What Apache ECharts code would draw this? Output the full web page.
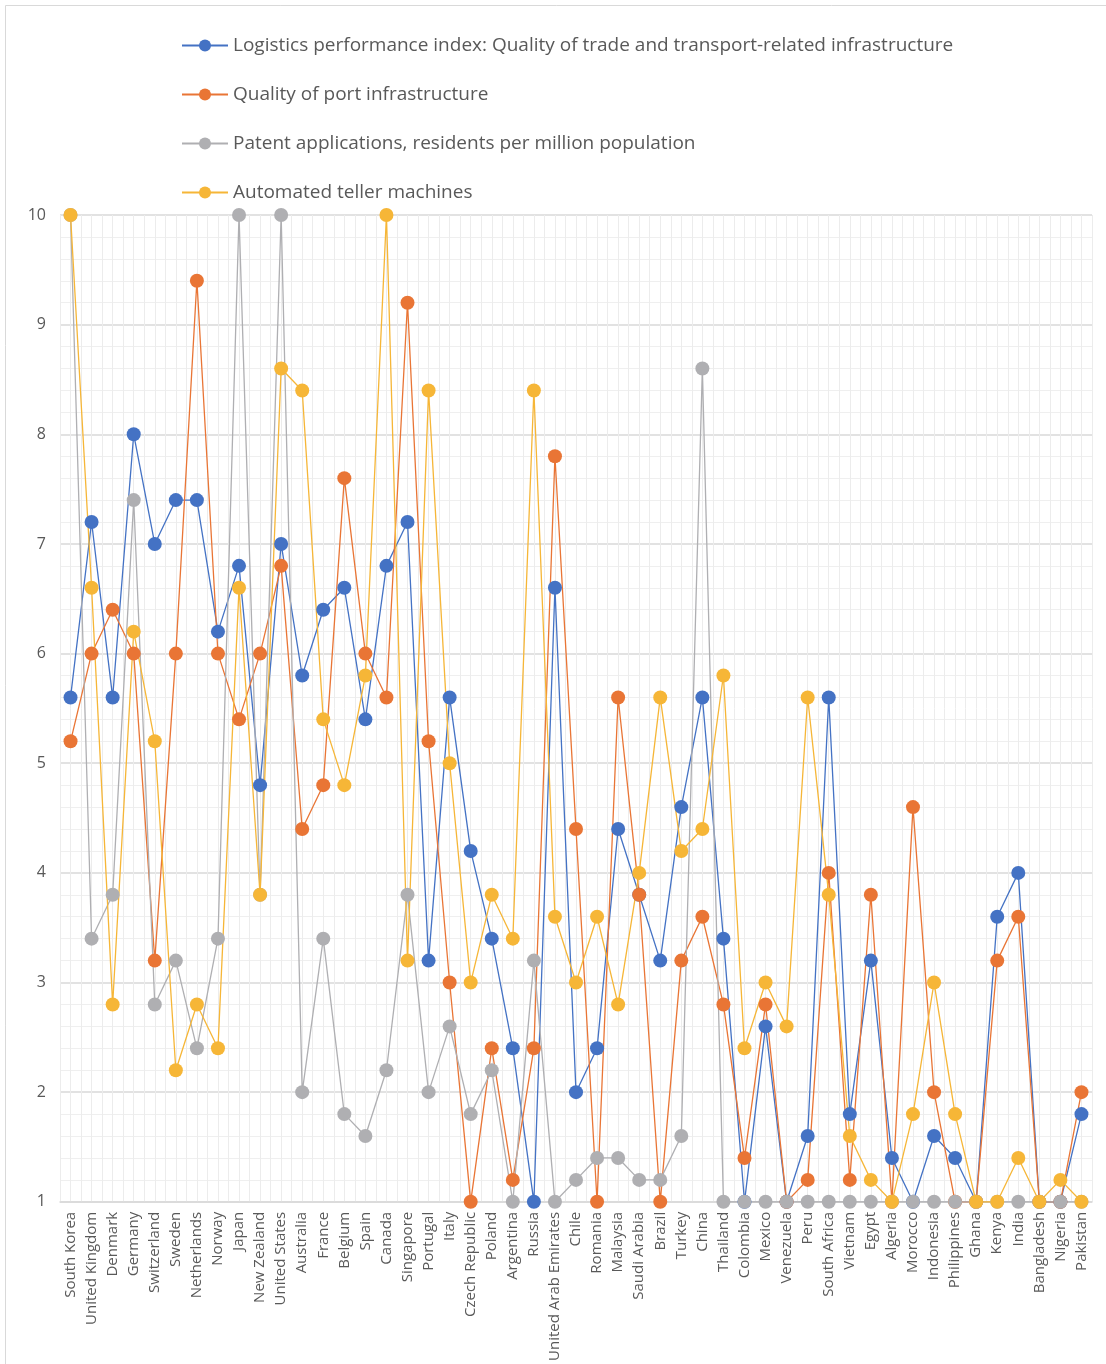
<!DOCTYPE html>
<html>
<head>
<meta charset="utf-8">
<title>Infrastructure indicators by country</title>
<script src="https://cdn.jsdelivr.net/npm/echarts@6/dist/echarts.min.js"></script>
<style>
  html, body { margin: 0; padding: 0; background: #fff; }
  #chart { width: 1106px; height: 1364px; }
</style>
</head>
<body>
<div id="chart"></div>
<script>
const countries = ['South Korea', 'United Kingdom', 'Denmark', 'Germany', 'Switzerland', 'Sweden',
  'Netherlands', 'Norway', 'Japan', 'New Zealand', 'United States', 'Australia', 'France',
  'Belgium', 'Spain', 'Canada', 'Singapore', 'Portugal', 'Italy', 'Czech Republic', 'Poland',
  'Argentina', 'Russia', 'United Arab Emirates', 'Chile', 'Romania', 'Malaysia', 'Saudi Arabia',
  'Brazil', 'Turkey', 'China', 'Thailand', 'Colombia', 'Mexico', 'Venezuela', 'Peru',
  'South Africa', 'Vietnam', 'Egypt', 'Algeria', 'Morocco', 'Indonesia', 'Philippines', 'Ghana',
  'Kenya', 'India', 'Bangladesh', 'Nigeria', 'Pakistan'];

const logistics = [5.6, 7.2, 5.6, 8.0, 7.0, 7.4, 7.4, 6.2, 6.8, 4.8, 7.0, 5.8, 6.4, 6.6, 5.4, 6.8,
  7.2, 3.2, 5.6, 4.2, 3.4, 2.4, 1.0, 6.6, 2.0, 2.4, 4.4, 3.8, 3.2, 4.6, 5.6, 3.4, 1.0, 2.6, 1.0,
  1.6, 5.6, 1.8, 3.2, 1.4, 1.0, 1.6, 1.4, 1.0, 3.6, 4.0, 1.0, 1.0, 1.8];

const portQuality = [5.2, 6.0, 6.4, 6.0, 3.2, 6.0, 9.4, 6.0, 5.4, 6.0, 6.8, 4.4, 4.8, 7.6, 6.0, 5.6,
  9.2, 5.2, 3.0, 1.0, 2.4, 1.2, 2.4, 7.8, 4.4, 1.0, 5.6, 3.8, 1.0, 3.2, 3.6, 2.8, 1.4, 2.8, 1.0,
  1.2, 4.0, 1.2, 3.8, 1.0, 4.6, 2.0, 1.0, 1.0, 3.2, 3.6, 1.0, 1.0, 2.0];

const patents = [10, 3.4, 3.8, 7.4, 2.8, 3.2, 2.4, 3.4, 10, 3.8, 10, 2.0, 3.4, 1.8, 1.6, 2.2,
  3.8, 2.0, 2.6, 1.8, 2.2, 1.0, 3.2, 1.0, 1.2, 1.4, 1.4, 1.2, 1.2, 1.6, 8.6, 1.0, 1.0, 1.0, 1.0,
  1.0, 1.0, 1.0, 1.0, 1.0, 1.0, 1.0, 1.0, 1.0, 1.0, 1.0, 1.0, 1.0, 1.0];

const atms = [10, 6.6, 2.8, 6.2, 5.2, 2.2, 2.8, 2.4, 6.6, 3.8, 8.6, 8.4, 5.4, 4.8, 5.8, 10,
  3.2, 8.4, 5.0, 3.0, 3.8, 3.4, 8.4, 3.6, 3.0, 3.6, 2.8, 4.0, 5.6, 4.2, 4.4, 5.8, 2.4, 3.0, 2.6,
  5.6, 3.8, 1.6, 1.2, 1.0, 1.8, 3.0, 1.8, 1.0, 1.0, 1.4, 1.0, 1.2, 1.0];

const seriesNames = [
  'Logistics performance index: Quality of trade and transport-related infrastructure',
  'Quality of port infrastructure',
  'Patent applications, residents per million population',
  'Automated teller machines'
];
const seriesColors = ['#4472C4', '#E97535', '#AFAFB2', '#F6B637'];
const seriesData = [logistics, portQuality, patents, atms];

const font = '"Open Sans", "DejaVu Sans", sans-serif';

const chart = echarts.init(document.getElementById('chart'));
chart.setOption({
  animation: false,
  backgroundColor: '#fff',
  textStyle: {fontFamily: font},
  graphic: [{
    type: 'rect',
    shape: {x: 5.5, y: 5.5, width: 1300, height: 1500},
    style: {fill: 'none', stroke: '#d9d9d9', lineWidth: 1},
    silent: true
  }],
  legend: {
    orient: 'vertical',
    left: 176,
    top: 31,
    itemWidth: 46,
    itemHeight: 15,
    itemGap: 30,
    textStyle: {fontSize: 19, color: '#595959', fontFamily: font},
    data: seriesNames
  },
  grid: {left: 60, right: 14, top: 215, bottom: 162, containLabel: false},
  xAxis: [{
    type: 'category',
    data: countries,
    boundaryGap: true,
    axisTick: {show: false},
    axisLine: {lineStyle: {color: '#d9d9d9', width: 1.5}},
    axisLabel: {
      interval: 0,
      rotate: 90,
      margin: 10,
      fontSize: 15,
      color: '#595959',
      fontFamily: font
    },
    splitLine: {show: false},
    z: 3
  }, {
    type: 'value',
    min: 0,
    max: 98,
    interval: 1,
    show: true,
    position: 'top',
    axisLine: {show: false},
    axisTick: {show: false},
    axisLabel: {show: false},
    splitLine: {show: true, lineStyle: {color: '#ececec', width: 1}}
  }],
  yAxis: {
    type: 'value',
    min: 1,
    max: 10,
    interval: 1,
    axisLine: {show: false},
    axisTick: {show: false},
    axisLabel: {fontSize: 16, color: '#595959', margin: 14, fontFamily: font},
    splitLine: {lineStyle: {color: '#d9d9d9', width: 1.5}},
    minorTick: {show: false, splitNumber: 5},
    minorSplitLine: {show: true, lineStyle: {color: '#efefef', width: 1}}
  },
  series: seriesNames.map((name, i) => ({
    name: name,
    type: 'line',
    xAxisIndex: 0,
    data: seriesData[i],
    color: seriesColors[i],
    symbol: 'circle',
    symbolSize: 14,
    showAllSymbol: true,
    clip: false,
    lineStyle: {width: 1.3, color: seriesColors[i]},
    itemStyle: {color: seriesColors[i]},
    emphasis: {disabled: true}
  }))
});
</script>
</body>
</html>
